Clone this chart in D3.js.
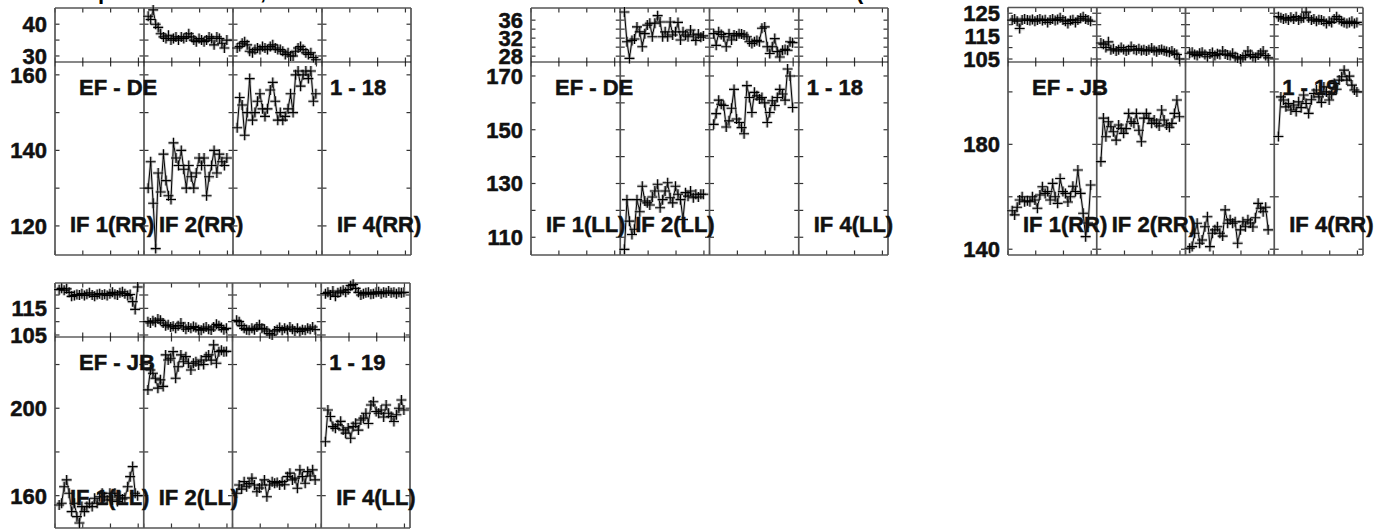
<!DOCTYPE html>
<html>
<head>
<meta charset="utf-8">
<script src="https://cdn.jsdelivr.net/npm/d3@7"></script>
<style>
  body { margin: 0; background: #fff; }
</style>
</head>
<body>
<svg id="chart" width="1398" height="531"></svg>
<script>
// time axis of every IF column (hours into the scan)
const times = [0.15,0.24,0.33,0.42,0.51,0.60,0.70,0.79,0.88,0.97,1.06,1.15,1.24,1.34,1.43,1.52,
               1.61,1.70,1.79,1.88,1.98,2.07,2.16,2.25,2.34,2.43,2.52,2.62,2.71,2.80,2.89,2.98];
const timeDomain = [0, 3.2];
const timeTicks = [0, 1, 2, 3];

// EF - DE, RR (IF 2 and IF 3 only)
const deRRTop2 = [42.5,41.5,44.5,40,39,37,36,35.5,36.5,35,35.5,36,35,36,35.5,36,37,36,35,34.5,35.5,35,34.5,35,36,35.5,33.5,36,35.5,34,32.5,35];
const deRRTop3 = [32.5,33,34,34.5,33.5,31.5,31,32,32.5,32,33,32.5,32,33,33.5,32.5,32,32,31.5,30.5,31,30,30,31.5,32.5,33,32,31,30.5,31,29.5,28.8];
const deRRBot2 = [130,137,126,114,134,129,139,132,128,127,142,138,136,140,135,130,136,133,130,134,138,136,138,128,133,136,140,134,139,137,136,138];
const deRRBot3 = [146,154,152,144,150,159,148,150,153,155,151,149,151,156,158,153,148,150,148,149,151,155,150,160,161,157,160,161,159,161,153,155];

// EF - DE, LL
const deLLTop2 = [37.8,31.2,27.5,31.5,31.8,34.5,33.4,30.1,33,34.9,35.3,32.3,35.3,37,35.6,32.3,33.4,32.3,35.6,32.7,33.4,35.5,31.6,33.4,32.7,32.3,33.8,32.7,31.5,32.9,32.2,32.5];
const deLLTop3 = [33,30.4,33.4,32.8,32.3,30.1,33,31.6,32.7,32.5,33,32.9,32.7,32.3,31.2,30.8,31.2,31.5,31.2,34.2,34.5,30.1,28.6,30.1,31.9,29,27.8,29.3,29.5,29.3,31.2,31];
const deLLBot2 = [105.5,124,116,111,113,124,119.5,129,123.5,122.8,122,125,127.2,129.7,121,124,127.2,130.3,124.7,122.8,129,126,124,116.6,126.6,125.3,127.2,124.7,126,125,126,126];
const deLLBot3 = [152,156,161,159.5,159,151,153.3,158,165,154,152.7,150.8,148.5,166.4,162,156.4,163.9,162.6,161.4,162,160,152.7,156.4,160.8,159,162,165,163.3,161,172.6,170,158.3];

// EF - JB, RR
const jbRRTop1 = [122,122.5,121.5,118.3,122,122.5,122,121.8,122.3,121.5,122,122.5,121.8,122.2,121,122,122.5,121.8,122.3,123,122,121.5,120.5,121.8,122.2,121,122,122.8,123.5,122.5,122,121.5];
const jbRRTop2 = [112,111.5,110,112.5,109,109.5,108.5,109,110,109.2,108.5,109,110.5,109.3,108.8,109.5,108.7,109,108.5,109,109.8,108.7,108.2,108.9,109.2,108.6,108.3,108,108.5,107.5,107,105];
const jbRRTop3 = [107.5,108,107,106.5,107.5,108,107,106,107.2,107.8,106.5,107.3,107,108.5,107.2,106.8,106.5,107.5,106,105.5,105,105.8,106.5,108.5,107,106,105.7,106.8,107.5,108.5,106.5,105.5];
const jbRRTop4 = [123.5,123,122.5,122.8,122,123.2,122.5,123.5,122,122.8,123,125.5,123,122,122.5,121.5,122.2,122,121.5,120.5,121.5,121,122.5,123.5,122.3,121.5,121,120.5,121,121.5,120.5,121];
const jbRRBot1 = [154.7,153.1,156,158.8,160,158.1,158.5,158.1,160,158.8,155.6,160.7,163.8,161.3,162,158.8,165.1,160,157.5,167,162,161.3,158,160,164,162,170.2,161.3,153.7,144.8,150,164.5];
const jbRRBot2 = [173.4,190,182.9,188.6,186.7,184.8,181.6,187.4,186.1,184.2,186,191.8,188.6,188,191.8,185.4,181,190,191.8,189.9,188,189.3,188,187,193.1,189.3,187.4,186.5,188,191.8,196.9,190.5];
const jbRRBot3 = [140.4,141,146.1,149.9,142.3,143.5,148.6,152.4,141,146.1,147.4,148.6,146.1,145,155,149.9,151.2,149.9,150.5,142.3,147.4,150.5,148.6,151.2,150,148.5,152,157.5,155.6,154.3,156,147.4];
const jbRRBot4 = [183,198.1,196.9,194.3,195.6,193.1,195,192.5,196.2,194,198.8,195.6,191.8,197,199.4,200.7,198.1,196,201.9,200,196.9,199,203.2,201,204.5,205.8,208.3,204.5,206,202.6,200.7,200];

// EF - JB, LL
const jbLLTop1 = [122,122.5,121.8,122.3,121,119.5,119.8,120.2,120,120.5,119.8,120.3,120.8,120,119.5,120.2,120.5,120,120.3,119.8,120.5,121,120.3,120,120.8,121.2,120.5,119.8,120.2,117.5,114.6,123];
const jbLLTop2 = [110,109.5,110.3,109.8,111,110.5,109.5,108.5,108.8,108,108.3,107.5,108.5,109.5,108,107.2,108,107.5,108.2,107.8,107,106.8,107.5,108,107.2,106.9,108,109,108.5,107.8,107,107.5];
const jbLLTop3 = [110.5,110,108.5,107.5,107,106.8,107.5,107,108,108.8,107.5,107.2,106.5,105.5,105,106.5,107,107.8,106.8,107.5,107,108,107.2,106.5,107.5,106.3,107,106.8,107.5,107.2,108,107];
const jbLLTop4 = [120.5,121,120,121.5,119.5,120.8,121.2,121.8,121,122,123.5,124,122.5,121,120,120.5,120.8,121,120.3,120.5,121,121.2,120.5,121,120.8,121.5,120.8,121,120.5,121,120.8,121];
const jbLLBot1 = [155.7,156.5,164.1,167.2,161.1,152.7,156.5,150.4,147.5,155,152.7,155,156.5,155,158.8,156.5,159.5,161.1,159.5,158,161.1,158,161.1,157.3,160,158.5,159,164.1,168.7,173.3,161.1,160];
const jbLLBot2 = [208.4,217.5,216,213.7,209.2,213,210,224.4,222.1,222.9,225.9,213.7,219,224.4,221.3,223.6,220.6,217.5,220.6,221.3,219.8,222.1,220,223.6,224.4,222,229,220.6,225.9,226.5,225.9,226];
const jbLLBot3 = [161.1,164.9,163,166.4,164.1,165.5,168,164.9,161.8,163.5,164.9,167.2,159.5,164.9,166.4,165.7,166,164.9,166.4,165,168.7,170.3,167.2,168,163.4,171.8,168.7,165.7,171,169,171.8,167.2];
const jbLLBot4 = [184.7,199.2,196.2,191.6,190.8,192.4,194,190.1,188.6,191,186.3,191.6,193.1,190,194.6,195.5,197.7,193,201.5,203,198.5,197.7,199.2,196,201.5,197.7,196.2,193.9,197,200,203.8,199.2];

// labels
const ifRR = ["IF 1(RR)", "IF 2(RR)", null, "IF 4(RR)"];
const ifLL = ["IF 1(LL)", "IF 2(LL)", null, "IF 4(LL)"];
const titleBits = [["p", 98], [",", 260], ["(", 856]];

const font = "'Liberation Sans', Arial, Helvetica, sans-serif";
const svg = d3.select("#chart");

const panels = [
  {left: 55, right: 411, top: 8, mid: 62, bottom: 255,
   topDomain: [28.1, 45.1], topLabels: [30, 40], topMinor: [35],
   botDomain: [112.3, 163.4], botLabels: [120, 140, 160], botMinor: [130, 150],
   tops: [null, deRRTop2, deRRTop3, null], bots: [null, deRRBot2, deRRBot3, null],
   base: "EF - DE", scan: "1 - 18", ifs: ifRR},
  {left: 531, right: 888, top: 8, mid: 62, bottom: 255,
   topDomain: [26.7, 38.7], topLabels: [28, 32, 36], topMinor: [30, 34],
   botDomain: [103.4, 175.2], botLabels: [110, 130, 150, 170], botMinor: [120, 140, 160],
   tops: [null, deLLTop2, deLLTop3, null], bots: [null, deLLBot2, deLLBot3, null],
   base: "EF - DE", scan: "1 - 18", ifs: ifLL},
  {left: 1008, right: 1363, top: 7.5, mid: 62, bottom: 255,
   topDomain: [103.7, 127.5], topLabels: [105, 115, 125], topMinor: [110, 120],
   botDomain: [137.8, 211.4], botLabels: [140, 180], botMinor: [160, 200],
   tops: [jbRRTop1, jbRRTop2, jbRRTop3, jbRRTop4], bots: [jbRRBot1, jbRRBot2, jbRRBot3, jbRRBot4],
   base: "EF - JB", scan: "1 - 19", ifs: ifRR},
  {left: 55, right: 410, top: 283, mid: 337, bottom: 528,
   topDomain: [104.25, 124.5], topLabels: [105, 115], topMinor: [110, 120],
   botDomain: [145.2, 232.6], botLabels: [160, 200], botMinor: [180, 220],
   tops: [jbLLTop1, jbLLTop2, jbLLTop3, jbLLTop4], bots: [jbLLBot1, jbLLBot2, jbLLBot3, jbLLBot4],
   base: "EF - JB", scan: "1 - 19", ifs: ifLL}
];

const tickLen = 4.5;

function drawSeries(g, values, x, y) {
  if (!values) return;
  const pts = values.map((v, i) => [x(times[i]), y(v)]);
  const line = d3.line();
  g.append("path").attr("d", line(pts))
    .attr("fill", "none").attr("stroke", "#9a9a9a").attr("stroke-width", 2.6).attr("opacity", 0.55);
  g.append("path").attr("d", line(pts))
    .attr("fill", "none").attr("stroke", "#000").attr("stroke-width", 1);
  const plus = d => `M${d[0] - 5},${d[1]}H${d[0] + 5}M${d[0]},${d[1] - 5}V${d[1] + 5}`;
  g.selectAll(null).data(pts).enter().append("path")
    .attr("d", plus).attr("stroke", "#8a8a8a").attr("stroke-width", 3.2).attr("opacity", 0.5);
  g.selectAll(null).data(pts).enter().append("path")
    .attr("d", plus).attr("stroke", "#000").attr("stroke-width", 1.1);
}

function drawPanel(p) {
  const g = svg.append("g");
  const colW = (p.right - p.left) / 4;
  const yTop = d3.scaleLinear().domain(p.topDomain).range([p.mid, p.top]);
  const yBot = d3.scaleLinear().domain(p.botDomain).range([p.bottom, p.mid]);
  const xs = d3.range(4).map(i => d3.scaleLinear().domain(timeDomain)
    .range([p.left + i * colW, p.left + (i + 1) * colW]));
  const edges = d3.range(5).map(i => p.left + i * colW);

  // x ticks on top, middle and bottom edges
  xs.forEach(x => {
    timeTicks.forEach(t => {
      const px = x(t);
      g.append("line").attr("x1", px).attr("x2", px).attr("y1", p.top).attr("y2", p.top + tickLen);
      g.append("line").attr("x1", px).attr("x2", px).attr("y1", p.mid - tickLen).attr("y2", p.mid + tickLen);
      g.append("line").attr("x1", px).attr("x2", px).attr("y1", p.bottom - tickLen).attr("y2", p.bottom);
    });
  });

  // y ticks along every vertical rule
  const yTicks = [
    ...p.topLabels.concat(p.topMinor).map(v => yTop(v)),
    ...p.botLabels.concat(p.botMinor).map(v => yBot(v))
  ];
  edges.forEach((ex, i) => {
    yTicks.forEach(py => {
      const x1 = i === 0 ? ex : ex - tickLen;
      const x2 = i === 4 ? ex : ex + tickLen;
      g.append("line").attr("x1", x1).attr("x2", x2).attr("y1", py).attr("y2", py);
    });
  });
  g.selectAll("line").attr("stroke", "#333").attr("stroke-width", 1.2);

  // frame and IF dividers
  edges.forEach(ex => {
    g.append("line").attr("x1", ex).attr("x2", ex).attr("y1", p.top).attr("y2", p.bottom)
      .attr("stroke", "#555").attr("stroke-width", 1.7);
  });
  [p.top, p.bottom].forEach(ey => {
    g.append("line").attr("x1", p.left).attr("x2", p.right).attr("y1", ey).attr("y2", ey)
      .attr("stroke", "#555").attr("stroke-width", 1.7);
  });
  g.append("line").attr("x1", p.left).attr("x2", p.right).attr("y1", p.mid).attr("y2", p.mid)
    .attr("stroke", "#111").attr("stroke-width", 1.2);

  // y tick labels
  const labels = p.topLabels.map(v => [v, yTop(v)]).concat(p.botLabels.map(v => [v, yBot(v)]));
  g.selectAll(null).data(labels).enter().append("text")
    .attr("x", p.left - 8).attr("y", d => d[1]).attr("dy", "0.36em")
    .attr("text-anchor", "end").text(d => d[0]);

  // data
  for (let i = 0; i < 4; i++) {
    drawSeries(g, p.tops[i], xs[i], yTop);
    drawSeries(g, p.bots[i], xs[i], yBot);
  }

  // annotations
  g.append("text").attr("x", p.left + 24).attr("y", p.top + 87).text(p.base);
  g.append("text").attr("x", edges[3] + 8).attr("y", p.top + 87).text(p.scan);
  p.ifs.forEach((s, i) => {
    if (s) g.append("text").attr("x", edges[i] + 15).attr("y", p.bottom - 23).text(s);
  });

  g.selectAll("text").attr("font-family", font).attr("font-weight", "bold")
    .attr("font-size", 22).attr("fill", "#111")
    .attr("stroke", "#111").attr("stroke-width", 0.5);
}

panels.forEach(drawPanel);

// title line sits above the page, only descenders show
svg.selectAll(null).data(titleBits).enter().append("text")
  .attr("x", d => d[1]).attr("y", -1)
  .attr("font-family", font).attr("font-weight", "bold").attr("font-size", 22)
  .text(d => d[0]);
</script>
</body>
</html>
